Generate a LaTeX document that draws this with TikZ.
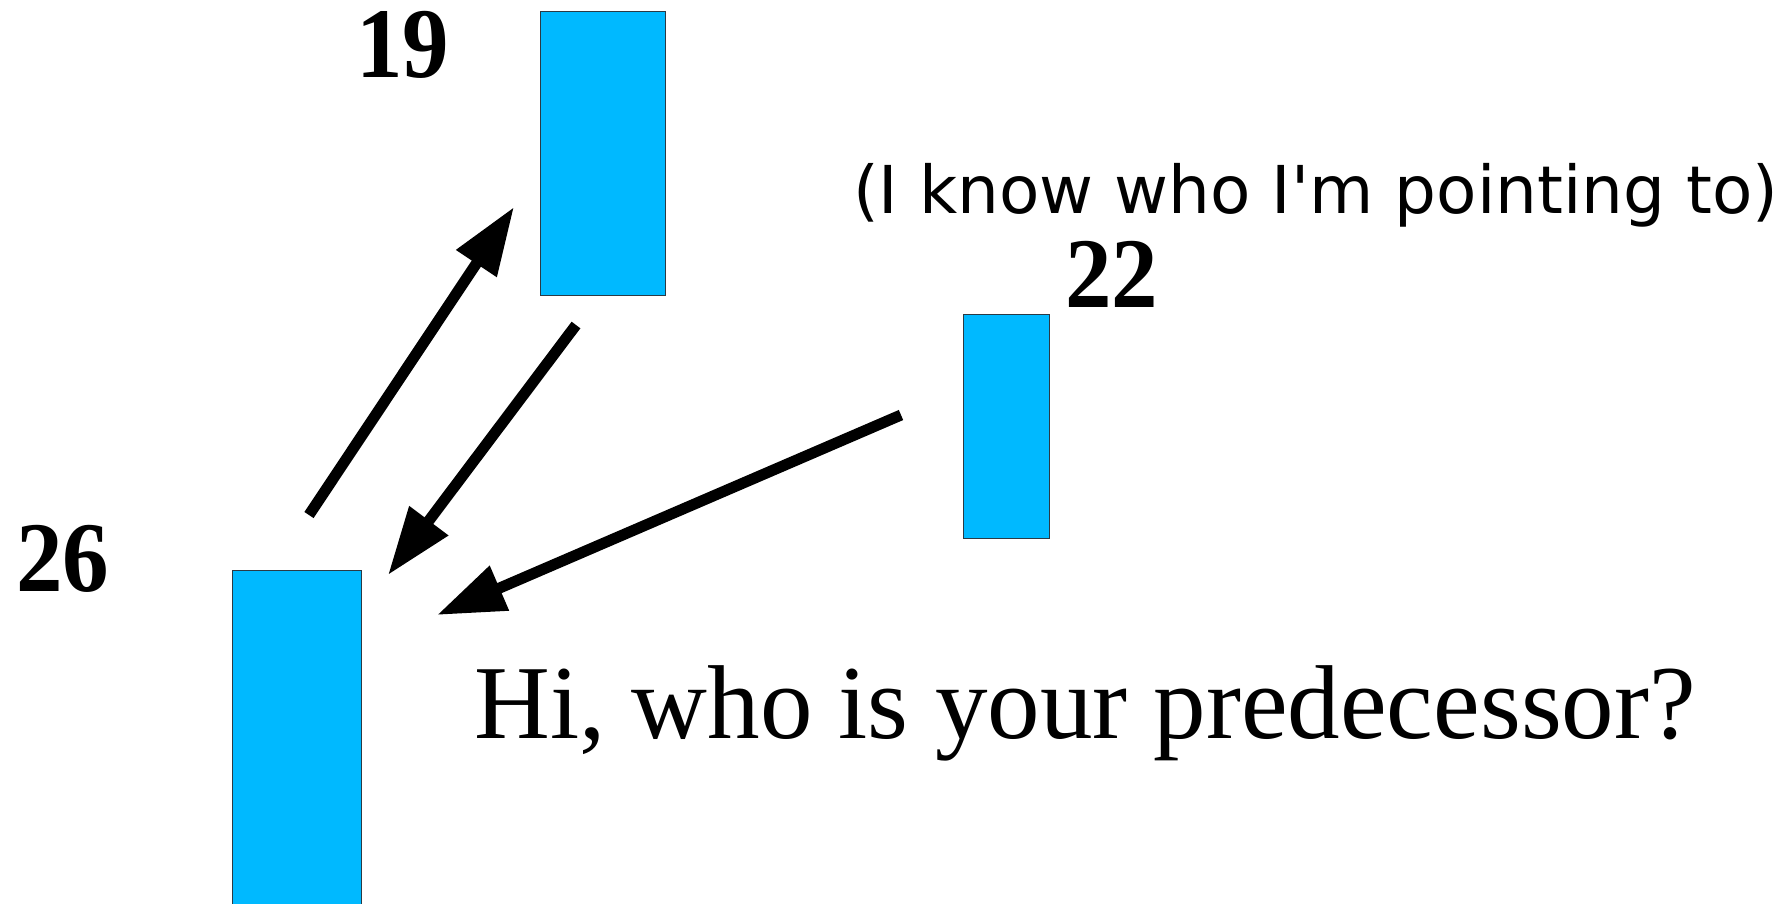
\documentclass[tikz,border=0pt]{standalone}
\usepackage{fontspec}
\setmainfont{Liberation Serif}
\newfontfamily\notefont{DejaVu Sans}
\usepackage{graphicx}
\usepackage{tikz}
\usetikzlibrary{arrows.meta, positioning}
\definecolor{cellblue}{HTML}{00B9FF}
\definecolor{celledge}{HTML}{2B3A44}
\newcommand{\idnum}[1]{\scalebox{0.93}[1]{#1}}
\tikzset{
  cell/.style={draw=celledge, fill=cellblue, line width=1pt, inner sep=0pt, anchor=north west},
  idlbl/.style={font=\fontsize{100}{104}\selectfont\bfseries, inner sep=0pt, text height=68pt, text depth=0pt, anchor=base west},
  ptr/.style={-{Triangle[length=68pt, width=46pt]}, line width=11pt, line cap=butt},
}
\begin{document}
\begin{tikzpicture}[x=1pt, y=-1pt]
  \useasboundingbox (0,0) rectangle (1782,903);
  % list cells
  \node[cell, minimum width=125pt, minimum height=284pt] (c19) at (540,11) {};
  \node[cell, minimum width=86pt, minimum height=224pt] (c22) at (963,314) {};
  \node[cell, minimum width=129pt, minimum height=345pt] (c26) at (232,570) {};
  \node[idlbl] (l19) at (356,77) {\idnum{19}};
  \node[idlbl] (l22) at (1065,307) {\idnum{22}};
  \node[idlbl] (l26) at (16,591) {\idnum{26}};
  % pointer ends
  \coordinate (a1) at (309,515);
  \coordinate (b1) at (514,207);
  \coordinate (a2) at (576,325);
  \coordinate (b2) at (388,575);
  \coordinate (a3) at (901,415);
  \coordinate (b3) at (437,615);
  \draw[ptr] (a1) -- (b1);
  \draw[ptr] (a2) -- (b2);
  \draw[ptr] (a3) -- (b3);
  \node[font=\notefont\fontsize{66}{70}\selectfont, inner sep=0pt, anchor=base west] (note) at (853,213) {(I know who I'm pointing to)};
  \node[font=\fontsize{105}{112}\selectfont, inner sep=0pt, anchor=base west] (ask) at (474,738) {Hi, who is your predecessor?};
\end{tikzpicture}
\end{document}
